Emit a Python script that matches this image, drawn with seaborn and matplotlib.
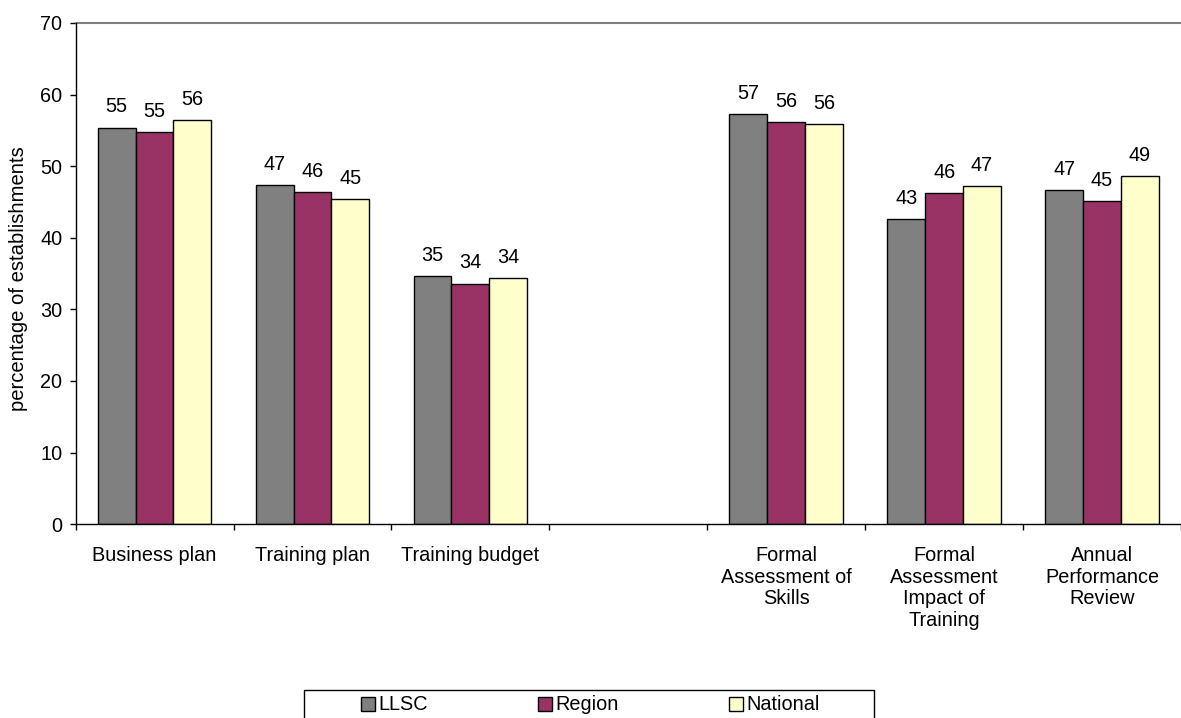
import matplotlib

matplotlib.use("Agg")

import matplotlib.pyplot as plt  # noqa: E402
import numpy as np  # noqa: E402
import pandas as pd  # noqa: E402
import seaborn as sns  # noqa: E402
from matplotlib.patches import Rectangle  # noqa: E402

categories = [
    "Business plan",
    "Training plan",
    "Training budget",
    " ",
    "Formal\nAssessment of\nSkills",
    "Formal\nAssessment\nImpact of\nTraining",
    "Annual\nPerformance\nReview",
]
series = ["LLSC", "Region", "National"]
llsc = [55.4, 47.4, 34.6, None, 57.3, 42.6, 46.7]
region = [54.8, 46.4, 33.6, None, 56.1, 46.3, 45.1]
national = [56.4, 45.4, 34.4, None, 55.9, 47.2, 48.6]
colors = ["#808080", "#993366", "#FFFFCC"]

rows = []
for name, vals in zip(series, [llsc, region, national]):
    for cat, v in zip(categories, vals):
        if v is not None:
            rows.append({"category": cat, "series": name, "value": v})
df = pd.DataFrame(rows)

FS = 14.3

sns.set_style("white", rc={"text.color": "black", "axes.labelcolor": "black",
                           "xtick.color": "black", "ytick.color": "black"})
plt.rcParams["font.family"] = ["Liberation Sans", "DejaVu Sans"]

fig = plt.figure(figsize=(11.81, 7.18), dpi=100)
ax = fig.add_axes([0.064, 0.270, 0.936, 0.698])

sns.barplot(
    data=df, x="category", y="value", hue="series",
    order=categories, hue_order=series, palette=colors,
    width=0.72, edgecolor="black", linewidth=1, saturation=1,
    errorbar=None, legend=True, ax=ax,
)

for cont in ax.containers:
    ax.bar_label(cont, fmt="%.0f", padding=8, fontsize=FS)

ax.set_ylim(0, 70)
ax.set_xlim(-0.5, len(categories) - 0.5)
ax.set_yticks(range(0, 71, 10))
ax.axhline(70, color="#808080", lw=1.5, clip_on=False)
ax.set_xlabel("")
ax.set_ylabel("percentage of establishments", fontsize=14.6)
ax.yaxis.set_label_coords(-0.043, 0.49)
ax.tick_params(axis="y", which="major", left=True, length=4.5, width=1,
               pad=5, labelsize=FS)
ax.tick_params(axis="x", which="major", length=0, labelsize=FS, pad=16)
ax.set_xticks(np.arange(-0.5, len(categories)), minor=True)
ax.tick_params(axis="x", which="minor", bottom=True, length=4.5, width=1)
for lab in ax.get_xticklabels():
    lab.set_verticalalignment("top")
    lab.set_linespacing(1.17)

for side in ["top", "right"]:
    ax.spines[side].set_visible(False)
for side in ["left", "bottom"]:
    ax.spines[side].set_color("black")
    ax.spines[side].set_linewidth(1)

handles, labels = ax.get_legend_handles_labels()
ax.get_legend().remove()

# legend frame drawn by hand, spanning like the reference box
fig.patches.append(Rectangle((304 / 1181, -0.05), 570 / 1181, (718 - 690) / 718 + 0.05,
                             transform=fig.transFigure, facecolor="white",
                             edgecolor="black", linewidth=1))
fig.legend(
    handles, labels, loc="center left", ncol=3,
    bbox_to_anchor=(361 / 1181, 1 - 705 / 718),
    frameon=False, fontsize=FS, borderpad=0, borderaxespad=0,
    handlelength=0.7, handleheight=0.7, handletextpad=0.15, columnspacing=5.58,
)

fig.savefig("out.png", dpi=100)
